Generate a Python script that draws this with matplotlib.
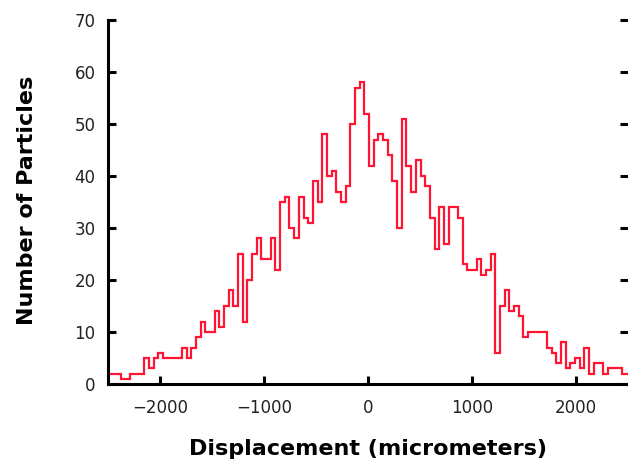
import matplotlib
matplotlib.use("Agg")
import matplotlib.pyplot as plt
import numpy as np

# histogram of particle displacements, bins of 45 um starting at -2510
bin_start = -2510
bin_width = 45
counts = [2, 2, 2, 1, 1, 2, 2, 2, 5, 3,
          5, 6, 5, 5, 5, 5, 7, 5, 7, 9,
          12, 10, 10, 14, 11, 15, 18, 15, 25, 12,
          20, 25, 28, 24, 24, 28, 22, 35, 36, 30,
          28, 36, 32, 31, 39, 35, 48, 40, 41, 37,
          35, 38, 50, 57, 58, 52, 42, 47, 48, 47,
          44, 39, 30, 51, 42, 37, 43, 40, 38, 32,
          26, 34, 27, 34, 34, 32, 23, 22, 22, 24,
          21, 22, 25, 6, 15, 18, 14, 15, 13, 9,
          10, 10, 10, 10, 7, 6, 4, 8, 3, 4,
          5, 3, 7, 2, 4, 4, 2, 3, 3, 3,
          2, 2]

xticks = [-2000, -1000, 0, 1000, 2000]
yticks = [0, 10, 20, 30, 40, 50, 60, 70]

edges = bin_start + bin_width * np.arange(len(counts) + 1)

fig = plt.figure(figsize=(6.28, 4.70), dpi=100)
ax = fig.add_axes([108/628, 1 - 384/470, 1 - 108/628, (384 - 20)/470])

ax.stairs(counts, edges, color="#ff1434", linewidth=1.6, baseline=None)

ax.set_xlim(-2500, 2500)
ax.set_ylim(0, 70)
ax.set_xticks(xticks)
ax.set_yticks(yticks)

for side in ["top", "right"]:
    ax.spines[side].set_visible(False)
for side in ["left", "bottom"]:
    ax.spines[side].set_linewidth(2.2)

ax.tick_params(axis="both", direction="in", length=6, width=2.2,
               labelsize=12, labelcolor="#222222")
ax.tick_params(axis="x", pad=11)
ax.tick_params(axis="y", pad=9, right=True)

fig.text(368/628, 1 - 449/470, "Displacement (micrometers)",
         ha="center", va="center", fontsize=16, fontweight="bold")
fig.text(27/628, 1 - 200/470, "Number of Particles", rotation=90,
         ha="center", va="center", fontsize=16, fontweight="bold")

fig.savefig("out.png", dpi=100)
